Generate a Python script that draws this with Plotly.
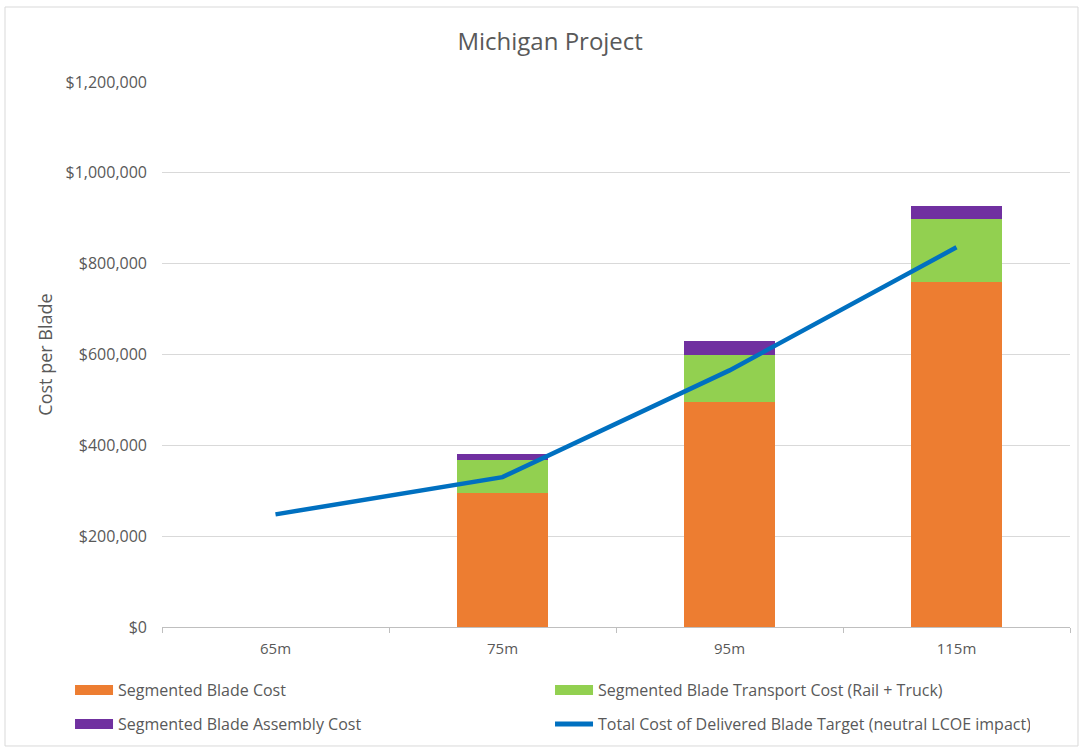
import plotly.graph_objects as go

# Blade length categories
lengths = ["65m", "75m", "95m", "115m"]

# Stacked cost components per blade (USD); no segmented blade at 65m
blade_cost = [None, 295000, 495000, 760000]
transport_cost = [None, 72000, 104000, 138000]
assembly_cost = [None, 15000, 31000, 30000]

# Target delivered-blade cost for neutral LCOE impact
target_cost = [248000, 330000, 565000, 836000]

y_ticks = [0, 200000, 400000, 600000, 800000, 1000000, 1200000]
y_tick_text = ["$0", "$200,000", "$400,000", "$600,000", "$800,000", "$1,000,000", "$1,200,000"]

FONT = "'Open Sans', Lato, sans-serif"
GREY_TEXT = "#595959"

fig = go.Figure()

fig.add_trace(go.Bar(
    x=lengths, y=blade_cost, name="Segmented Blade Cost",
    marker=dict(color="#ED7D31", line=dict(width=0)),
    legend="legend", legendgroup="blade", showlegend=False,
))
fig.add_trace(go.Bar(
    x=lengths, y=transport_cost, name="Segmented Blade Transport Cost (Rail + Truck)",
    marker=dict(color="#92D050", line=dict(width=0)),
    legend="legend", legendgroup="transport", showlegend=False,
))
fig.add_trace(go.Bar(
    x=lengths, y=assembly_cost, name="Segmented Blade Assembly Cost",
    marker=dict(color="#7030A0", line=dict(width=0)),
    legend="legend2", legendgroup="assembly", showlegend=False,
))
fig.add_trace(go.Scatter(
    x=lengths, y=target_cost, mode="lines",
    name="Total Cost of Delivered Blade Target (neutral LCOE impact)",
    line=dict(color="#0070C0", width=4.5),
    legend="legend2", legendgroup="target", showlegend=False,
))

# Wide swatch legend entries for the stacked series
swatches = [
    ("Segmented Blade Cost", "#ED7D31", "legend", "blade"),
    ("Segmented Blade Transport Cost (Rail + Truck)", "#92D050", "legend", "transport"),
    ("Segmented Blade Assembly Cost", "#7030A0", "legend2", "assembly"),
    ("Total Cost of Delivered Blade Target (neutral LCOE impact)", "#0070C0", "legend2", "target"),
]
for name, color, leg, grp in swatches:
    fig.add_trace(go.Scatter(
        x=[None], y=[None], mode="lines", name=name,
        line=dict(color=color, width=11 if grp != "target" else 5),
        legend=leg, legendgroup=grp, showlegend=True, hoverinfo="skip",
    ))

legend_common = dict(
    orientation="h", xanchor="left", yanchor="middle",
    font=dict(family=FONT, size=16, color=GREY_TEXT),
    itemwidth=38, entrywidth=427, entrywidthmode="pixels",
    bgcolor="rgba(0,0,0,0)", itemclick=False, itemdoubleclick=False,
)

fig.update_layout(
    width=1083, height=747,
    margin=dict(l=162, r=13, t=82, b=120, autoexpand=False),
    paper_bgcolor="white", plot_bgcolor="white",
    barmode="stack", bargap=0.6,
    font=dict(family=FONT, color=GREY_TEXT),
    title=dict(
        text="Michigan Project", x=0.508, xanchor="center", y=0.944, yanchor="middle",
        font=dict(family=FONT, size=24, color=GREY_TEXT),
    ),
    xaxis=dict(
        type="category", categoryorder="array", categoryarray=lengths,
        showgrid=False, showline=True, linecolor="#bfbfbf", linewidth=1,
        ticks="outside", tickson="boundaries", ticklen=5, tickcolor="#bfbfbf",
        tickfont=dict(family=FONT, size=15, color=GREY_TEXT),
        ticklabelstandoff=8,
        zeroline=False,
    ),
    yaxis=dict(
        range=[0, 1200000], tickvals=y_ticks, ticktext=y_tick_text,
        showgrid=True, gridcolor="#d9d9d9", gridwidth=1,
        showline=False, zeroline=False, ticks="",
        tickfont=dict(family=FONT, size=16, color=GREY_TEXT),
        ticklabelstandoff=14,
        title=dict(text="Cost per Blade", font=dict(family=FONT, size=18, color=GREY_TEXT), standoff=8),
    ),
    legend=dict(x=-0.1013, y=-0.1156, **legend_common),
    legend2=dict(x=-0.1013, y=-0.178, **legend_common),
    shapes=[dict(
        type="rect", xref="paper", yref="paper",
        x0=-0.1729, x1=1.0088, y0=-0.2183, y1=1.1376,
        line=dict(color="#d9d9d9", width=1), fillcolor="rgba(0,0,0,0)", layer="below",
    )],
    showlegend=True,
)

fig.write_html("out.html")
